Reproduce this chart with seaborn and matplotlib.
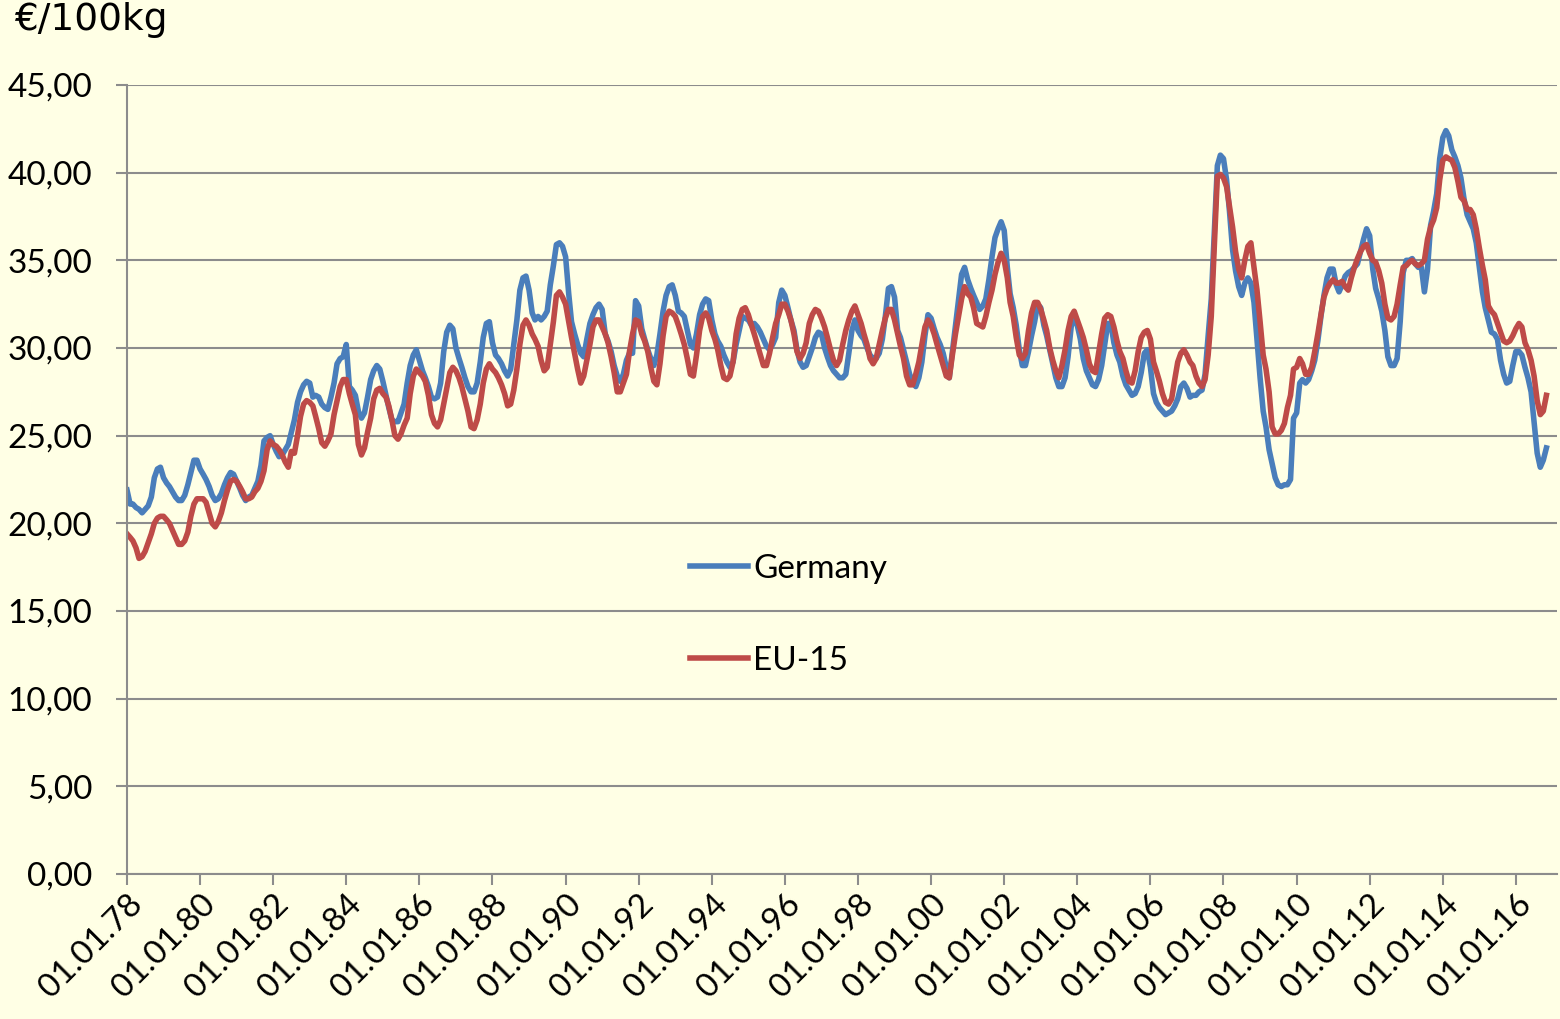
import pandas as pd
import seaborn as sns
import matplotlib.pyplot as plt
import matplotlib.dates as mdates
from matplotlib.ticker import FuncFormatter, MultipleLocator

# monthly prices in €/100kg, Jan 1978 - Nov 2016 (one row per year)
germany = [
    21.9, 21.1, 21.1, 20.9, 20.8, 20.6, 20.8, 21.0, 21.5, 22.6, 23.1, 23.2,  # 1978
    22.6, 22.3, 22.1, 21.8, 21.5, 21.3, 21.3, 21.6, 22.2, 22.9, 23.6, 23.6,  # 1979
    23.1, 22.8, 22.5, 22.1, 21.6, 21.3, 21.4, 21.7, 22.2, 22.6, 22.9, 22.8,  # 1980
    22.4, 22.0, 21.6, 21.3, 21.5, 21.6, 22.0, 22.4, 23.3, 24.7, 24.9, 25.0,  # 1981
    24.5, 24.1, 23.8, 23.9, 24.2, 24.5, 25.2, 25.9, 26.9, 27.5, 27.9, 28.1,  # 1982
    28.0, 27.2, 27.3, 27.2, 26.8, 26.6, 26.5, 27.2, 28.0, 29.1, 29.4, 29.5,  # 1983
    30.2, 27.8, 27.6, 27.3, 26.4, 26.0, 26.3, 27.2, 28.2, 28.7, 29.0, 28.8,  # 1984
    28.1, 27.3, 26.6, 25.9, 25.8, 25.8, 26.3, 26.8, 28.0, 29.0, 29.6, 29.9,  # 1985
    29.3, 28.7, 28.3, 27.8, 27.2, 27.1, 27.2, 28.0, 29.8, 30.9, 31.3, 31.1,  # 1986
    30.0, 29.4, 28.9, 28.3, 27.8, 27.5, 27.5, 28.0, 29.2, 30.6, 31.4, 31.5,  # 1987
    30.3, 29.6, 29.4, 29.1, 28.7, 28.4, 28.8, 30.2, 31.6, 33.3, 34.0, 34.1,  # 1988
    33.3, 32.0, 31.6, 31.8, 31.6, 31.8, 32.1, 33.6, 34.7, 35.9, 36.0, 35.8,  # 1989
    35.2, 33.1, 31.5, 30.8, 30.2, 29.7, 29.5, 30.5, 31.4, 31.9, 32.3, 32.5,  # 1990
    32.2, 30.8, 30.4, 29.8, 29.0, 28.4, 28.1, 28.5, 29.3, 29.7, 29.7, 32.7,  # 1991
    32.4, 31.1, 30.5, 29.9, 29.4, 29.0, 29.6, 30.8, 32.1, 33.0, 33.5, 33.6,  # 1992
    33.0, 32.1, 32.0, 31.8, 31.0, 30.2, 30.0, 30.8, 31.9, 32.5, 32.8, 32.7,  # 1993
    31.6, 30.8, 30.4, 30.1, 29.6, 29.2, 28.9, 29.2, 30.2, 31.0, 31.8, 31.7,  # 1994
    31.6, 31.3, 31.4, 31.2, 30.9, 30.5, 30.1, 29.9, 30.2, 30.6, 32.6, 33.3,  # 1995
    33.0, 32.3, 31.6, 31.0, 29.9, 29.2, 28.9, 29.0, 29.5, 30.0, 30.6, 30.9,  # 1996
    30.8, 30.0, 29.5, 29.0, 28.7, 28.5, 28.3, 28.3, 28.5, 29.7, 31.0, 31.6,  # 1997
    31.0, 30.7, 30.5, 30.0, 29.6, 29.4, 29.4, 29.7, 30.5, 31.8, 33.4, 33.5,  # 1998
    32.9, 31.0, 30.6, 29.9, 29.2, 28.5, 28.1, 27.8, 28.3, 29.2, 30.7, 31.9,  # 1999
    31.7, 31.1, 30.6, 30.2, 29.7, 28.9, 28.3, 29.8, 31.3, 32.8, 34.2, 34.6,  # 2000
    33.9, 33.4, 33.0, 32.6, 32.2, 32.4, 32.8, 33.9, 35.2, 36.3, 36.8, 37.2,  # 2001
    36.7, 34.6, 33.1, 32.3, 31.3, 29.9, 29.0, 29.0, 29.8, 30.7, 31.5, 32.5,  # 2002
    32.3, 31.3, 30.7, 29.9, 29.1, 28.3, 27.8, 27.8, 28.3, 29.5, 31.2, 31.8,  # 2003
    31.3, 30.5, 29.4, 28.7, 28.3, 27.9, 27.8, 28.2, 29.0, 30.2, 31.4, 31.4,  # 2004
    30.3, 29.6, 29.2, 28.4, 27.9, 27.6, 27.3, 27.4, 27.8, 28.6, 29.7, 29.9,  # 2005
    28.9, 27.4, 26.9, 26.6, 26.4, 26.2, 26.3, 26.4, 26.7, 27.1, 27.8, 28.0,  # 2006
    27.7, 27.2, 27.3, 27.3, 27.5, 27.6, 28.5, 30.7, 32.8, 36.5, 40.4, 41.0,  # 2007
    40.8, 39.6, 37.8, 35.6, 34.4, 33.5, 33.0, 33.7, 34.0, 33.7, 32.6, 30.5,  # 2008
    28.3, 26.4, 25.5, 24.2, 23.4, 22.6, 22.2, 22.1, 22.2, 22.2, 22.5, 26.0,  # 2009
    26.3, 28.0, 28.2, 28.0, 28.2, 28.7, 29.3, 30.4, 31.8, 33.0, 34.0, 34.5,  # 2010
    34.5, 33.6, 33.2, 33.6, 34.1, 34.3, 34.4, 34.6, 34.8, 35.5, 36.2, 36.8,  # 2011
    36.4, 34.5, 33.4, 32.8, 32.1, 31.0, 29.5, 29.0, 29.0, 29.4, 31.5, 34.3,  # 2012
    35.0, 35.0, 35.1, 34.8, 34.6, 34.6, 33.2, 34.5, 37.0, 37.8, 38.8, 40.8,  # 2013
    42.0, 42.4, 42.1, 41.3, 40.9, 40.4, 39.7, 38.5, 37.6, 37.2, 36.8, 36.0,  # 2014
    34.6, 33.2, 32.3, 31.6, 30.9, 30.8, 30.5, 29.3, 28.5, 28.0, 28.1, 29.0,  # 2015
    29.8, 29.8, 29.6, 28.9, 28.3, 27.5, 25.8, 24.0, 23.2, 23.6, 24.3,        # 2016
]

eu15 = [
    19.4, 19.2, 19.0, 18.6, 18.0, 18.1, 18.4, 18.9, 19.4, 20.0, 20.3, 20.4,  # 1978
    20.4, 20.2, 20.0, 19.6, 19.2, 18.8, 18.8, 19.0, 19.5, 20.4, 21.1, 21.4,  # 1979
    21.4, 21.4, 21.2, 20.6, 20.0, 19.8, 20.1, 20.6, 21.3, 21.9, 22.4, 22.5,  # 1980
    22.4, 22.1, 21.8, 21.4, 21.4, 21.5, 21.8, 22.0, 22.4, 23.0, 24.2, 24.7,  # 1981
    24.5, 24.4, 24.2, 23.9, 23.5, 23.2, 24.1, 24.0, 25.0, 26.1, 26.8, 27.0,  # 1982
    26.9, 26.7, 26.1, 25.4, 24.6, 24.4, 24.7, 25.1, 26.2, 27.0, 27.8, 28.2,  # 1983
    28.2, 27.4, 26.8, 26.2, 24.5, 23.9, 24.3, 25.2, 26.0, 27.1, 27.6, 27.7,  # 1984
    27.4, 27.2, 26.7, 25.9, 25.0, 24.8, 25.1, 25.6, 26.0, 27.4, 28.4, 28.8,  # 1985
    28.6, 28.4, 28.1, 27.3, 26.2, 25.7, 25.5, 25.9, 26.8, 27.7, 28.6, 28.9,  # 1986
    28.7, 28.3, 27.8, 27.1, 26.4, 25.5, 25.4, 25.9, 26.8, 28.0, 28.8, 29.1,  # 1987
    28.8, 28.6, 28.3, 27.9, 27.4, 26.7, 26.8, 27.6, 28.8, 30.2, 31.3, 31.6,  # 1988
    31.3, 30.8, 30.5, 30.1, 29.3, 28.7, 28.9, 30.2, 31.5, 33.0, 33.2, 32.9,  # 1989
    32.5, 31.5, 30.6, 29.7, 28.8, 28.0, 28.4, 29.3, 30.2, 31.2, 31.6, 31.6,  # 1990
    31.2, 30.8, 30.3, 29.5, 28.6, 27.5, 27.5, 28.0, 28.5, 29.8, 30.8, 31.6,  # 1991
    31.5, 30.8, 30.4, 29.8, 28.9, 28.1, 27.9, 29.1, 30.7, 31.8, 32.1, 32.0,  # 1992
    31.8, 31.3, 30.8, 30.2, 29.4, 28.5, 28.4, 29.6, 31.0, 31.8, 32.0, 31.7,  # 1993
    31.0, 30.5, 29.9, 29.0, 28.3, 28.2, 28.4, 29.2, 30.8, 31.7, 32.2, 32.3,  # 1994
    31.9, 31.3, 30.8, 30.2, 29.6, 29.0, 29.0, 29.7, 30.6, 31.4, 31.9, 32.5,  # 1995
    32.5, 32.1, 31.6, 30.8, 29.8, 29.4, 29.7, 30.3, 31.4, 31.9, 32.2, 32.1,  # 1996
    31.7, 31.2, 30.6, 29.9, 29.3, 29.0, 29.3, 30.2, 31.0, 31.6, 32.1, 32.4,  # 1997
    31.9, 31.4, 30.8, 30.2, 29.4, 29.1, 29.4, 30.2, 31.0, 31.7, 32.2, 32.2,  # 1998
    31.6, 30.8, 30.1, 29.4, 28.4, 27.9, 27.9, 28.5, 29.2, 30.2, 31.2, 31.6,  # 1999
    31.3, 30.8, 30.2, 29.6, 29.0, 28.4, 28.3, 29.6, 30.8, 31.8, 32.8, 33.5,  # 2000
    33.1, 32.9, 32.3, 31.4, 31.3, 31.2, 31.8, 32.6, 33.3, 34.2, 34.9, 35.4,  # 2001
    35.0, 34.0, 32.6, 31.8, 30.6, 29.6, 29.4, 29.7, 31.0, 32.0, 32.6, 32.6,  # 2002
    32.2, 31.6, 31.0, 30.0, 29.3, 28.7, 28.3, 29.0, 29.9, 31.0, 31.8, 32.1,  # 2003
    31.6, 31.1, 30.6, 29.9, 29.1, 28.7, 28.6, 29.7, 30.8, 31.7, 31.9, 31.8,  # 2004
    31.2, 30.4, 29.8, 29.4, 28.7, 28.1, 28.0, 28.7, 29.8, 30.6, 30.9, 31.0,  # 2005
    30.5, 29.2, 28.7, 28.1, 27.4, 26.9, 26.8, 27.1, 28.2, 29.2, 29.7, 29.9,  # 2006
    29.6, 29.2, 29.0, 28.4, 28.0, 27.8, 28.2, 29.6, 31.8, 35.8, 39.8, 39.9,  # 2007
    39.7, 39.2, 38.1, 36.9, 35.5, 34.5, 34.0, 35.0, 35.8, 36.0, 34.6, 33.3,  # 2008
    31.5, 29.6, 28.8, 27.5, 25.5, 25.1, 25.1, 25.3, 25.7, 26.6, 27.3, 28.8,  # 2009
    28.9, 29.4, 29.1, 28.5, 28.5, 28.9, 29.8, 30.8, 31.9, 32.9, 33.4, 33.7,  # 2010
    33.9, 33.7, 33.7, 33.8, 33.5, 33.3, 34.0, 34.6, 35.1, 35.5, 35.8, 35.9,  # 2011
    35.4, 35.0, 34.9, 34.4, 33.7, 32.5, 31.7, 31.6, 31.8, 32.5, 33.6, 34.6,  # 2012
    34.7, 34.9, 35.0, 34.8, 34.7, 34.8, 35.0, 36.2, 36.9, 37.3, 38.0, 39.6,  # 2013
    40.7, 40.9, 40.8, 40.7, 40.3, 39.5, 38.6, 38.4, 37.9, 37.9, 37.6, 36.8,  # 2014
    35.7, 34.7, 33.9, 32.4, 32.1, 31.9, 31.4, 30.9, 30.4, 30.3, 30.4, 30.7,  # 2015
    31.1, 31.4, 31.2, 30.3, 29.9, 29.3, 28.4, 27.0, 26.2, 26.4, 27.3,        # 2016
]

series_names = ['Germany', 'EU-15']
series_colors = ['#4A7EBB', '#BE4B48']
tick_years = list(range(1978, 2017, 2))

dates = pd.date_range('1978-01-01', periods=len(germany), freq='MS')
df = pd.concat([
    pd.DataFrame({'date': dates, 'price': germany, 'series': 'Germany'}),
    pd.DataFrame({'date': dates, 'price': eu15, 'series': 'EU-15'}),
])

bg = '#FFFFE5'
grid_c = '#8C8C8C'

fig = plt.figure(figsize=(15.6, 10.19), dpi=100, facecolor=bg)
ax = fig.add_axes([127/1560, 1-874/1019, (1557-127)/1560, (874-85)/1019])
ax.set_facecolor(bg)

sns.lineplot(data=df, x='date', y='price', hue='series', hue_order=series_names,
             palette=series_colors, linewidth=4.0, ax=ax, legend=False)

ax.set_ylim(0, 45)
ax.set_xlim(pd.Timestamp('1978-01-01'), pd.Timestamp('2017-02-15'))
ax.yaxis.set_major_locator(MultipleLocator(5))
ax.yaxis.set_major_formatter(FuncFormatter(lambda v, p: f'{v:.2f}'.replace('.', ',')))
ax.set_xticks([pd.Timestamp(f'{y}-01-01') for y in tick_years])
ax.xaxis.set_major_formatter(mdates.DateFormatter('%d.%m.%y'))
ax.grid(axis='y', color=grid_c, linewidth=1.5)
ax.set_axisbelow(True)
for s in ['top', 'right']:
    ax.spines[s].set_visible(False)
for s in ['left', 'bottom']:
    ax.spines[s].set_color(grid_c)
    ax.spines[s].set_linewidth(1.5)
ax.tick_params(axis='both', colors=grid_c, width=1.5, length=8, labelcolor='black')
ax.tick_params(axis='y', pad=17, labelsize=24)
ax.tick_params(axis='x', pad=3, labelsize=24)
for lab in ax.get_yticklabels() + ax.get_xticklabels():
    lab.set_family('Lato')
plt.setp(ax.get_xticklabels(), rotation=45, ha='right', va='top', rotation_mode='anchor')
ax.set_xlabel('')
ax.set_ylabel('')

fig.text(14/1560, 1-2/1019, '€/100kg', fontsize=27, family='DejaVu Sans', va='top', ha='left')

handles = [plt.Line2D([], [], color=c, linewidth=4.0) for c in series_colors]
leg = ax.legend(handles, series_names, loc='upper left', bbox_to_anchor=(690/1560, 1-554/1019),
                bbox_transform=fig.transFigure, frameon=False,
                prop={'family': 'Lato', 'size': 24}, handlelength=1.75, handletextpad=0.15,
                labelspacing=1.85, borderpad=0, borderaxespad=0)

fig.savefig('out.png', dpi=100, facecolor=bg)
